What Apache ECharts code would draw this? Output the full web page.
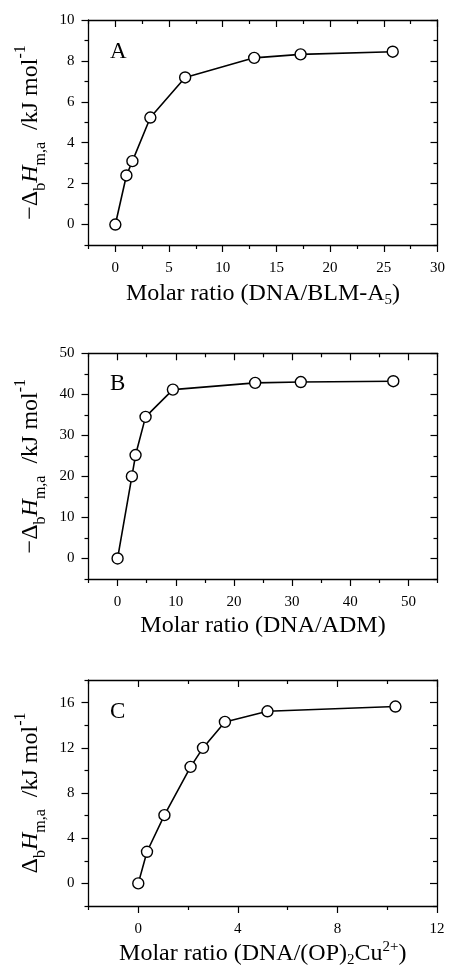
<!DOCTYPE html>
<html><head><meta charset="utf-8">
<script src="https://cdn.jsdelivr.net/npm/echarts@6/dist/echarts.min.js"></script>
<style>html,body{margin:0;padding:0;background:#fff}#c{width:449px;height:970px}</style>
</head><body><div id="c"></div>
<script>
// ---- data ----
const xA = [0, 1.03, 1.59, 3.26, 6.5, 12.93, 17.25, 25.83];
const yA = [0, 2.4, 3.1, 5.23, 7.19, 8.15, 8.32, 8.45];
const xB = [0, 2.46, 3.09, 4.81, 9.51, 23.65, 31.5, 47.4];
const yB = [0, 20.0, 25.2, 34.5, 41.15, 42.8, 43.0, 43.2];
const xC = [0, 0.35, 1.05, 2.1, 2.6, 3.48, 5.19, 10.33];
const yC = [0, 2.8, 6.04, 10.31, 11.99, 14.29, 15.23, 15.65];

// ---- ticks ----
const xMajorA = [0, 5, 10, 15, 20, 25, 30];
const xMinorA = [-2.5, 2.5, 7.5, 12.5, 17.5, 22.5, 27.5];
const yMajorA = [0, 2, 4, 6, 8, 10];
const yMinorA = [-1, 1, 3, 5, 7, 9];
const xMajorB = [0, 10, 20, 30, 40, 50];
const xMinorB = [-5, 5, 15, 25, 35, 45, 55];
const yMajorB = [0, 10, 20, 30, 40, 50];
const yMinorB = [-5, 5, 15, 25, 35, 45];
const xMajorC = [0, 4, 8, 12];
const xMinorC = [-2, 2, 6, 10];
const yMajorC = [0, 4, 8, 12, 16];
const yMinorC = [-2, 2, 6, 10, 14, 18];

const panelLetters = ['A', 'B', 'C'];
const xTitles = [
  '{t|Molar ratio (DNA/BLM-A}{s|5}{t|)}',
  '{t|Molar ratio (DNA/ADM)}',
  '{t|Molar ratio (DNA/(OP)}{s|2}{t|Cu}{p|2+}{t|)}'
];
const yTitles = [
  '{t|−Δ}{s|b}{i|H}{s|m,a}{t|  /kJ mol}{p|-1}',
  '{t|−Δ}{s|b}{i|H}{s|m,a}{t|  /kJ mol}{p|-1}',
  '{t|Δ}{s|b}{i|H}{s|m,a}{t|  /kJ mol}{p|-1}'
];

const FF = '"Liberation Serif", "DejaVu Serif", serif';
const richX = {
  t: {fontFamily: FF, fontSize: 24, lineHeight: 28, color: '#000'},
  s: {fontFamily: FF, fontSize: 15, lineHeight: 15, color: '#000', verticalAlign: 'bottom'},
  p: {fontFamily: FF, fontSize: 15, lineHeight: 15, color: '#000', verticalAlign: 'top'}
};
const richY = {
  t: {fontFamily: FF, fontSize: 24, lineHeight: 36, color: '#000'},
  i: {fontFamily: FF, fontSize: 24, lineHeight: 36, color: '#000', fontStyle: 'italic'},
  s: {fontFamily: FF, fontSize: 16, lineHeight: 16, color: '#000', verticalAlign: 'bottom'},
  p: {fontFamily: FF, fontSize: 16, lineHeight: 16, color: '#000', verticalAlign: 'top'}
};

const grids = [
  {left: 88.5, top: 20, width: 349, height: 225},
  {left: 88.5, top: 353.3, width: 349, height: 225.7},
  {left: 88.5, top: 680, width: 348.5, height: 226}
];
const ranges = [
  {x: [-2.5, 30], y: [-1, 10], xMaj: xMajorA, xMin: xMinorA, yMaj: yMajorA, yMin: yMinorA, xGap: 35},
  {x: [-5, 55], y: [-5, 50], xMaj: xMajorB, xMin: xMinorB, yMaj: yMajorB, yMin: yMinorB, xGap: 33},
  {x: [-2, 12], y: [-2, 18], xMaj: xMajorC, xMin: xMinorC, yMaj: yMajorC, yMin: yMinorC, xGap: 34}
];

function axisSet(dim, g, min, max, major, minor, name, gap, rich) {
  const isX = dim === 'x';
  const p1 = isX ? 'bottom' : 'left', p2 = isX ? 'top' : 'right';
  const line = {onZero: false, lineStyle: {color: '#000', width: 1.3}};
  const base = {type: 'value', gridIndex: g, min: min, max: max, splitLine: {show: false}, minorTick: {show: false}};
  const tk = (inside, len, vals) => ({show: true, inside: inside, length: len, customValues: vals, lineStyle: {color: '#000', width: 1.2}});
  return [
    Object.assign({}, base, {
      position: p1, axisLine: line, axisTick: tk(false, 7, major),
      axisLabel: {show: true, customValues: major, margin: isX ? 16 : 14, fontFamily: FF, fontSize: 15, color: '#000'},
      name: name, nameLocation: 'middle', nameGap: gap, nameRotate: isX ? 0 : 90,
      nameTextStyle: {rich: rich}
    }),
    Object.assign({}, base, {position: p1, axisLine: {show: false, onZero: false}, axisTick: tk(false, 4, minor), axisLabel: {show: false}}),
    Object.assign({}, base, {position: p2, axisLine: line, axisTick: tk(true, 7, major), axisLabel: {show: false}}),
    Object.assign({}, base, {position: p2, axisLine: {show: false, onZero: false}, axisTick: tk(true, 4, minor), axisLabel: {show: false}})
  ];
}

const xAxes = [], yAxes = [];
ranges.forEach((r, g) => {
  xAxes.push(...axisSet('x', g, r.x[0], r.x[1], r.xMaj, r.xMin, xTitles[g], r.xGap, richX));
  yAxes.push(...axisSet('y', g, r.y[0], r.y[1], r.yMaj, r.yMin, yTitles[g], 27, richY));
});

const allX = [xA, xB, xC], allY = [yA, yB, yC];
const series = allX.map((xs, g) => ({
  type: 'line',
  xAxisIndex: g * 4, yAxisIndex: g * 4,
  data: xs.map((x, i) => [x, allY[g][i]]),
  symbol: 'circle', symbolSize: 11, showSymbol: true,
  lineStyle: {color: '#000', width: 1.6},
  itemStyle: {color: '#fff', borderColor: '#000', borderWidth: 1.4},
  z: 3, animation: false
}));

const titleTops = [40, 372, 700];
const titles = panelLetters.map((t, i) => ({
  text: t, left: 110, top: titleTops[i], padding: 0,
  textStyle: {fontFamily: FF, fontSize: 23, fontWeight: 'normal', color: '#000'}
}));

const chart = echarts.init(document.getElementById('c'), null, {renderer: 'canvas'});
chart.setOption({
  animation: false,
  backgroundColor: '#fff',
  title: titles,
  grid: grids.map(g => Object.assign({outerBoundsMode: 'none', containLabel: false, show: false}, g)),
  xAxis: xAxes,
  yAxis: yAxes,
  series: series
});
</script>
</body></html>
